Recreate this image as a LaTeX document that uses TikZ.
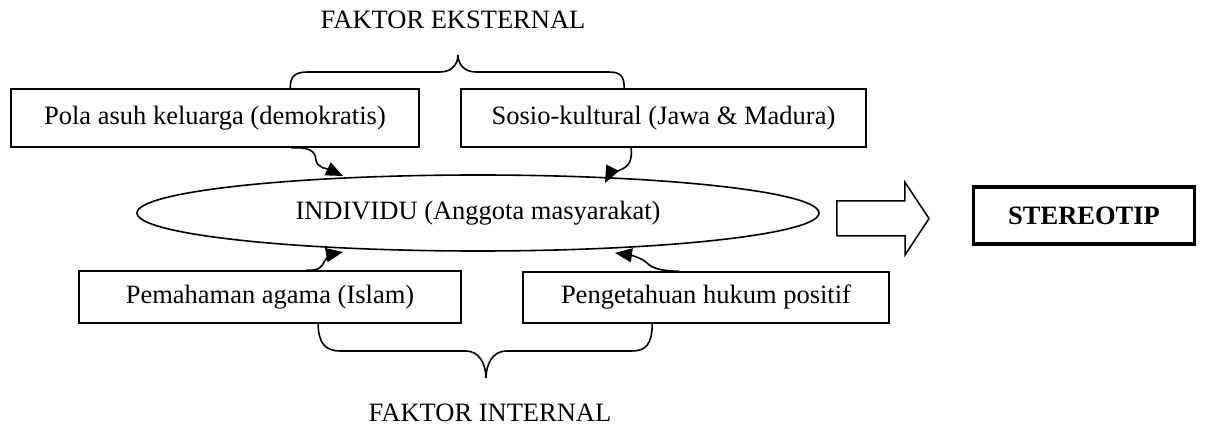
\documentclass[tikz,border=0pt]{standalone}
\usepackage{fontspec}
\setmainfont{Liberation Serif}
\usetikzlibrary{arrows.meta,shapes.geometric,calc}
\begin{document}
\begin{tikzpicture}[x=1pt,y=-1pt,
  txt/.style={font=\fontsize{26.5}{32}\selectfont},
  box/.style={txt, draw, line width=1.6pt, inner sep=0pt},
  lbl/.style={txt, inner sep=0pt},
  arr/.style={line width=1.6pt, -{Triangle[length=17pt,width=14pt]}},
  bracepath/.style={line width=1.6pt},
  blockarrow/.style={line width=1.5pt, line join=miter}]
\useasboundingbox (0,0) rectangle (1205,427);

% labels
\node[lbl] (ext) at (453,20) {FAKTOR EKSTERNAL};
\node[lbl] (int) at (490,413) {FAKTOR INTERNAL};

% boxes
\node[box, minimum width=408pt, minimum height=58pt] (pola) at (215,118) {Pola asuh keluarga (demokratis)};
\node[box, minimum width=405pt, minimum height=58pt] (sos) at (663.5,118) {Sosio-kultural (Jawa \& Madura)};
\node[box, minimum width=382pt, minimum height=52pt] (pem) at (270,297) {Pemahaman agama (Islam)};
\node[box, minimum width=366pt, minimum height=51pt] (hk) at (706,297.5) {Pengetahuan hukum positif};

% ellipse
\node[txt, draw, ellipse, line width=1.6pt, inner sep=0pt, minimum width=682pt, minimum height=76pt] (ind) at (478,213) {INDIVIDU (Anggota masyarakat)};

% stereotip
\node[box, line width=3.5pt, minimum width=221pt, minimum height=57pt, font=\fontsize{26.5}{32}\selectfont\bfseries] (st) at (1084,215.5) {STEREOTIP};

% top brace
\draw[bracepath] ($(pola.north west)+(280,0)$) .. controls +(0,-13) and +(-12,0) .. (308,72) -- (440,72)
  .. controls +(12,0) and +(0,9) .. (458,55)
  .. controls +(0,9) and +(-12,0) .. (476,72) -- (608,72)
  .. controls +(12,0) and +(0,-13) .. ($(sos.north west)+(164,0)$);

% bottom brace
\draw[bracepath] ($(pem.south west)+(240,0)$) .. controls +(0,20) and +(-14,0) .. (340,351) -- (466,351)
  .. controls +(13,0) and +(0,-14) .. (486,378)
  .. controls +(0,-14) and +(-13,0) .. (506,351) -- (632,351)
  .. controls +(14,0) and +(0,20) .. ($(hk.south west)+(130,0)$);

% curved arrows
\draw[arr] ($(pola.south west)+(281,0)$) .. controls (310,147) and (315,151) .. (316,160)
  .. controls (317,168) and (328,169) .. ($(ind.center)+(-135,-37)$);
\draw[arr] ($(sos.south west)+(171,0)$) .. controls (632,160) and (630,166) .. (620,170)
  .. controls (612,173) and (608,177) .. ($(ind.center)+(127,-30)$);
\draw[arr] ($(pem.north west)+(228,0)$) .. controls (320,271) and (322,266) .. (324,262)
  .. controls (327,257) and (332,254) .. ($(ind.center)+(-135,39)$);
\draw[arr] ($(hk.north west)+(157,0)$) .. controls (660,271) and (652,268) .. (647,263)
  .. controls (642,258) and (630,255) .. ($(ind.center)+(137,40)$);

% block arrow
\coordinate (ba) at ($(ind.east)+(17,5.5)$);
\draw[blockarrow] (ba) ++(0,-17.5) -- ++(68,0) -- ++(0,-19) -- (929,218.5) -- (905,255) -- (905,236) -- (837,236) -- cycle;
\end{tikzpicture}
\end{document}
